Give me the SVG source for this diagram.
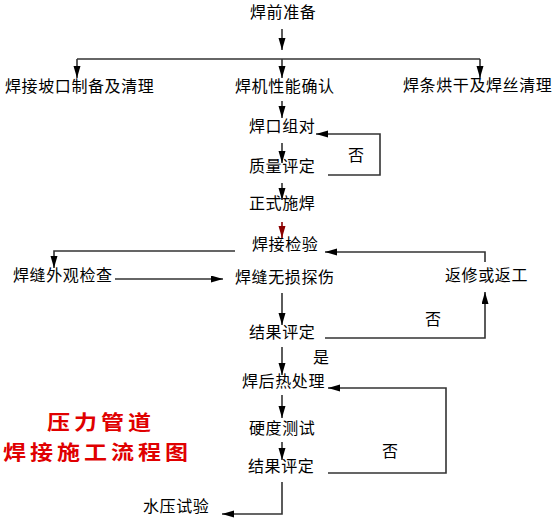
<svg xmlns="http://www.w3.org/2000/svg" width="559" height="521" viewBox="0 0 559 521">
<style>
text{font-family:"Noto Sans CJK SC","Noto Sans CJK JP",sans-serif;font-size:16px;fill:#000;letter-spacing:0.6px}
.t{fill:#e00000;font-size:20px;font-weight:bold;letter-spacing:3.5px}
.c{fill:none;stroke:#333;stroke-width:1.6}
.a{marker-end:url(#ah)}
.r{stroke:#8b0000}
</style>
<defs>
<marker id="ah" markerUnits="userSpaceOnUse" markerWidth="13" markerHeight="8" refX="12" refY="3.5" orient="auto">
<path d="M0,0 L12,3.5 L0,7 z" fill="#000"/>
</marker>
<marker id="ahr" markerUnits="userSpaceOnUse" markerWidth="13" markerHeight="8" refX="12" refY="3.5" orient="auto">
<path d="M0,0 L12,3.5 L0,7 z" fill="#8b0000"/>
</marker>
</defs>
<g id="connectors">
<path class="c a" d="M282,29 V50"/>
<path class="c" d="M77,59 H480"/>
<path class="c a" d="M77,59 V78"/>
<path class="c a" d="M282,59 V78"/>
<path class="c a" d="M480,59 V78"/>
<path class="c a" d="M282,101 V118"/>
<path class="c a" d="M328,175 H380 V134 H316"/>
<path class="c a" d="M282,143 V163"/>
<path class="c a" d="M282,183 V200"/>
<path class="c r" marker-end="url(#ahr)" d="M282,222 V238"/>
<path class="c a" d="M235,251 H54 V268"/>
<path class="c a" d="M115,279 H223"/>
<path class="c a" d="M485,262 V252 H325"/>
<path class="c a" d="M325,338 H485 V292"/>
<path class="c a" d="M282,293 V325"/>
<path class="c a" d="M282,347 V375"/>
<path class="c a" d="M282,395 V418"/>
<path class="c a" d="M282,442 V460"/>
<path class="c a" d="M328,473 H446 V388 H328"/>
<path class="c a" d="M282,482 V514 H222"/>
</g>
<g id="n-prep"><text x="250" y="18">焊前准备</text></g>
<g id="n-bevel"><text x="5" y="92">焊接坡口制备及清理</text></g>
<g id="n-machine"><text x="235" y="92">焊机性能确认</text></g>
<g id="n-rod"><text x="403" y="91">焊条烘干及焊丝清理</text></g>
<g id="n-fitup"><text x="249" y="132">焊口组对</text></g>
<g id="l-no1"><text x="348" y="161">否</text></g>
<g id="n-quality"><text x="249" y="172">质量评定</text></g>
<g id="n-weld"><text x="249" y="209">正式施焊</text></g>
<g id="n-inspect"><text x="252" y="250">焊接检验</text></g>
<g id="n-visual"><text x="13" y="281">焊缝外观检查</text></g>
<g id="n-ndt"><text x="235" y="283">焊缝无损探伤</text></g>
<g id="n-repair"><text x="445" y="281">返修或返工</text></g>
<g id="l-no2"><text x="425" y="325">否</text></g>
<g id="n-eval1"><text x="249" y="338">结果评定</text></g>
<g id="l-yes"><text x="313" y="363">是</text></g>
<g id="n-pwht"><text x="242" y="387">焊后热处理</text></g>
<g id="n-hardness"><text x="249" y="434">硬度测试</text></g>
<g id="l-no3"><text x="382" y="457">否</text></g>
<g id="n-eval2"><text x="248" y="472">结果评定</text></g>
<g id="n-hydro"><text x="143" y="512">水压试验</text></g>
<g id="title">
<text class="t" transform="translate(47,430) scale(1.15,1)">压力管道</text>
<text class="t" transform="translate(3,460) scale(1.15,1)">焊接施工流程图</text>
</g>
</svg>
